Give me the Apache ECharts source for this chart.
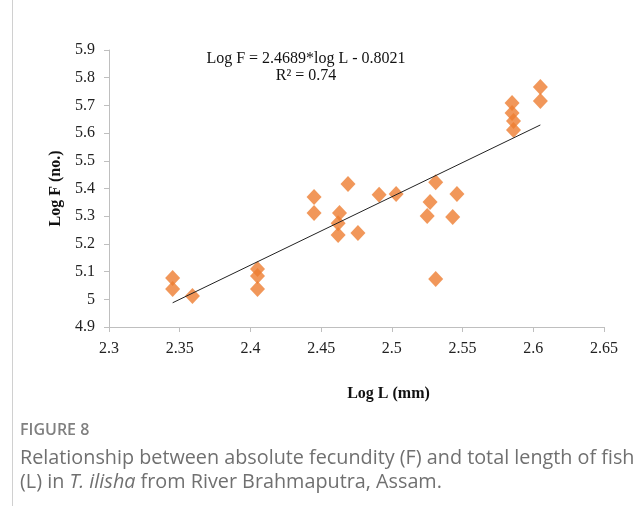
<!DOCTYPE html>
<html>
<head>
<meta charset="utf-8">
<script src="https://cdn.jsdelivr.net/npm/echarts@6/dist/echarts.min.js"></script>
<style>
  html, body { margin: 0; padding: 0; background: #fff; }
  #chart { width: 643px; height: 506px; }
</style>
</head>
<body>
<div id="chart"></div>
<script>
// observed points (log L, log F)
const logL = [2.345, 2.345, 2.359, 2.405, 2.405, 2.405, 2.445, 2.445, 2.469, 2.463, 2.462, 2.462,
  2.476, 2.491, 2.503, 2.531, 2.527, 2.525, 2.546, 2.543, 2.531, 2.585, 2.585, 2.586, 2.586, 2.605, 2.605]
const logF = [5.077, 5.037, 5.012, 5.109, 5.084, 5.037, 5.369, 5.312, 5.416, 5.312, 5.275, 5.232,
  5.239, 5.377, 5.380, 5.423, 5.351, 5.301, 5.380, 5.297, 5.073, 5.709, 5.673, 5.644, 5.611, 5.766, 5.716]

// trendline from the printed equation
const slope = 2.4689
const intercept = -0.8021
const trendL = [2.345, 2.605]

const xTicks = { min: 2.3, max: 2.65, interval: 0.05 }
const yTicks = { min: 4.9, max: 5.9, interval: 0.1 }

const points = logL.map((x, i) => [x, logF[i]])
const trend = trendL.map(x => [x, slope * x + intercept])

const serif = '"Liberation Serif", "Times New Roman", serif'
const sans = '"Open Sans", sans-serif'
const axisGray = '#bfbfbf'

const chart = echarts.init(document.getElementById('chart'))
chart.setOption({
  animation: false,
  backgroundColor: '#fff',
  grid: { left: 109, right: 39, top: 50, bottom: 179 },
  xAxis: {
    type: 'value',
    min: xTicks.min,
    max: xTicks.max,
    interval: xTicks.interval,
    splitLine: { show: false },
    axisLine: { lineStyle: { color: axisGray } },
    axisTick: { show: true, length: 5, lineStyle: { color: axisGray } },
    axisLabel: {
      color: '#222', fontFamily: serif, fontSize: 16, margin: 14,
      formatter: v => String(+v.toFixed(2))
    },
    name: 'Log L (mm)',
    nameLocation: 'middle',
    nameGap: 59,
    nameTextStyle: {
      color: '#111', fontFamily: serif, fontSize: 16, fontWeight: 'bold',
      padding: [0, 0, 0, 64]
    }
  },
  yAxis: {
    type: 'value',
    min: yTicks.min,
    max: yTicks.max,
    interval: yTicks.interval,
    splitLine: { show: false },
    axisLine: { show: true, lineStyle: { color: axisGray } },
    axisTick: { show: true, length: 5, lineStyle: { color: axisGray } },
    axisLabel: {
      color: '#222', fontFamily: serif, fontSize: 16, margin: 14,
      formatter: v => String(+v.toFixed(1))
    },
    name: 'Log F (no.)',
    nameLocation: 'middle',
    nameGap: 44,
    nameTextStyle: { color: '#111', fontFamily: serif, fontSize: 16, fontWeight: 'bold' }
  },
  series: [
    {
      type: 'line',
      data: trend,
      symbol: 'none',
      lineStyle: { color: '#222', width: 1 },
      z: 3
    },
    {
      type: 'scatter',
      data: points,
      symbol: 'diamond',
      symbolSize: [15, 16],
      itemStyle: { color: '#ed7d31' },
      z: 2
    }
  ],
  graphic: [
    {
      type: 'line',
      shape: { x1: 12.5, y1: 0, x2: 12.5, y2: 506 },
      style: { stroke: '#d0d0d0', lineWidth: 1 }
    },
    {
      type: 'text', x: 306, y: 50,
      style: {
        text: 'Log F = 2.4689*log L - 0.8021\nR² = 0.74',
        fill: '#111', font: '16px ' + serif, align: 'center', lineHeight: 17
      }
    },
    {
      type: 'text', x: 20, y: 422,
      style: { text: 'FIGURE 8', fill: '#808080', font: '600 16px ' + sans }
    },
    {
      type: 'text', x: 20, y: 446,
      style: {
        text: '{n|Relationship between absolute fecundity (F) and total length of fish}\n{n|(L) in }{i|T. ilisha}{n| from River Brahmaputra, Assam.}',
        rich: {
          n: { fill: '#707070', font: '19.8px ' + sans, lineHeight: 24 },
          i: { fill: '#707070', font: 'italic 19.8px ' + sans, lineHeight: 24 }
        }
      }
    }
  ]
})
</script>
</body>
</html>
